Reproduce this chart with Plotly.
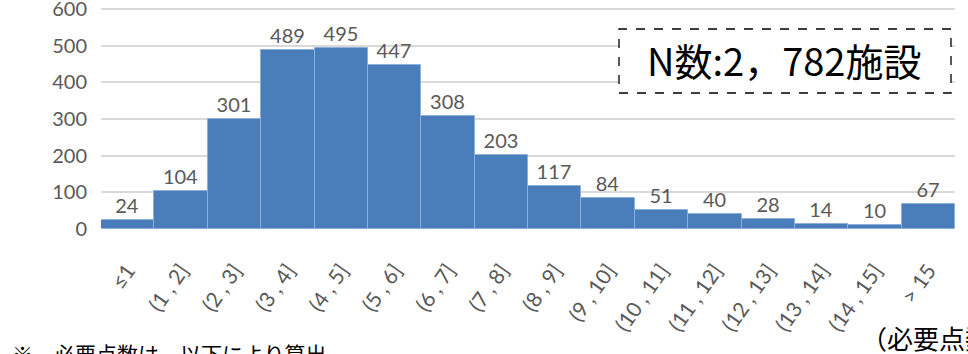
import plotly.graph_objects as go

categories = ["≤1", "(1, 2]", "(2, 3]", "(3, 4]", "(4, 5]", "(5, 6]", "(6, 7]", "(7, 8]",
              "(8, 9]", "(9, 10]", "(10, 11]", "(11, 12]", "(12, 13]", "(13, 14]", "(14, 15]", "> 15"]
counts = [24, 104, 301, 489, 495, 447, 308, 203, 117, 84, 51, 40, 28, 14, 10, 67]
y_ticks = [0, 100, 200, 300, 400, 500, 600]

W, H = 968, 354
L, R, T, B = 101, 13, 0, 125
ph = H - T - B
pw = W - L - R
Y_MAX = 625

tick_text = [c.replace(", ", " , ") for c in categories]

fig = go.Figure(go.Bar(
    x=categories, y=counts,
    marker=dict(color="#4A7EBB", line=dict(color="#8FAEDA", width=1)),
    text=[str(v) for v in counts], textposition="outside",
    textfont=dict(family="Lato, Open Sans, sans-serif", size=20, color="#595959"),
    cliponaxis=False,
))

def py(pix):
    return (H - B - pix) / ph

def px(pix):
    return (pix - L) / pw

fig.add_shape(type="rect", xref="paper", yref="paper",
              x0=px(619), x1=px(951), y0=py(93), y1=py(29), layer="above",
              line=dict(color="#000000", width=1.3, dash="dash"), fillcolor="#FFFFFF")
fig.add_annotation(
    xref="paper", yref="paper", x=px(784), y=py(60),
    xanchor="center", yanchor="middle",
    text="N数:2，782施設", showarrow=False,
    font=dict(family="Noto Sans CJK JP", size=38, color="#000000"),
)
fig.add_annotation(
    xref="paper", yref="paper", x=px(10), y=py(336),
    xanchor="left", yanchor="top", text="※　必要点数は、以下により算出", showarrow=False,
    font=dict(family="Noto Sans CJK JP", size=21, color="#000000"),
)
fig.add_annotation(
    xref="paper", yref="paper", x=px(859), y=py(317),
    xanchor="left", yanchor="top", text="（必要点数）", showarrow=False,
    font=dict(family="Noto Sans CJK JP", size=26, color="#000000"),
)

fig.update_layout(
    width=W, height=H,
    margin=dict(l=L, r=R, t=T, b=B, autoexpand=False),
    paper_bgcolor="white", plot_bgcolor="white",
    bargap=0, showlegend=False,
    xaxis=dict(tickangle=-55, tickvals=categories, ticktext=tick_text,
               ticks="outside", ticklen=20, tickcolor="rgba(0,0,0,0)",
               tickfont=dict(family="Lato, Open Sans, sans-serif", size=21, color="#595959"),
               showgrid=False, showline=False),
    yaxis=dict(range=[0, Y_MAX], tickvals=y_ticks, showgrid=True, gridcolor="#D9D9D9", gridwidth=1.5,
               zeroline=False, showline=False, ticks="outside", ticklen=9, tickcolor="rgba(0,0,0,0)",
               ticklabeloverflow="allow",
               tickfont=dict(family="Lato, Open Sans, sans-serif", size=20, color="#595959")),
)
fig.write_html("out.html", config={"displayModeBar": False},
               post_script="document.body.style.margin='0';")
